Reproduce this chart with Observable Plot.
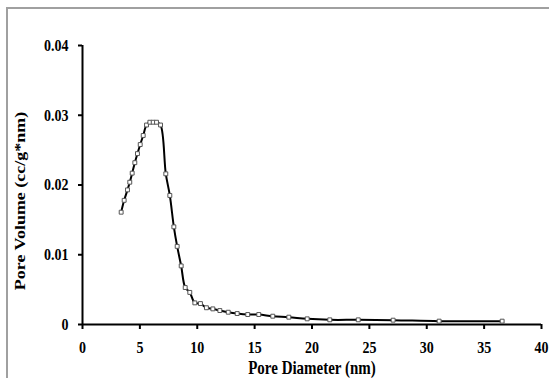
<!DOCTYPE html>
<html>
<head>
<meta charset="utf-8">
<script src="https://cdn.jsdelivr.net/npm/d3@7"></script>
<script src="https://cdn.jsdelivr.net/npm/@observablehq/plot@0.6"></script>
<style>
  html, body { margin: 0; padding: 0; background: #fff; }
  #wrap { position: relative; width: 549px; height: 378px; overflow: hidden; }
  #frame { position: absolute; left: 6px; top: 7px; width: 600px; height: 420px; border: 2px solid #a0a0a0; box-sizing: border-box; }
  #chart { position: absolute; left: 0; top: 0; }
</style>
</head>
<body>
<div id="wrap"><div id="frame"></div><div id="chart"></div></div>
<script>
const diameter = [3.37, 3.63, 3.92, 4.12, 4.33, 4.56, 4.79, 5.03, 5.29, 5.58, 5.87, 6.16, 6.45, 6.8, 7.26, 7.61, 7.96, 8.25, 8.6, 8.95, 9.35, 9.79, 10.28, 10.8, 11.36, 11.97, 12.7, 13.48, 14.4, 15.36, 16.58, 17.98, 19.58, 21.55, 24.03, 27.07, 31.08, 36.57];
const volume = [0.0161, 0.0178, 0.0193, 0.0204, 0.0217, 0.0232, 0.0245, 0.0258, 0.0271, 0.0286, 0.0290, 0.0290, 0.0290, 0.0286, 0.0216, 0.0185, 0.0140, 0.0112, 0.0084, 0.0053, 0.0046, 0.0031, 0.0030, 0.0024, 0.00224, 0.0020, 0.00176, 0.00157, 0.00143, 0.00143, 0.00119, 0.00105, 0.00081, 0.00067, 0.00067, 0.00062, 0.00048, 0.00048];
const xTicks = [0, 5, 10, 15, 20, 25, 30, 35, 40];
const yTicks = [0, 0.01, 0.02, 0.03, 0.04];
const yTickLabels = ["0", "0.01", "0.02", "0.03", "0.04"];
const xTitle = "Pore Diameter (nm)";
const yTitle = "Pore Volume (cc/g*nm)";

const data = diameter.map((d, i) => ({d, v: volume[i]}));

const chart = Plot.plot({
  width: 549,
  height: 378,
  marginLeft: 82,
  marginRight: 8,
  marginTop: 45,
  marginBottom: 54,
  style: {fontFamily: "'Liberation Serif', 'Times New Roman', serif", fontSize: "14px", fontWeight: "bold", color: "#000", background: "transparent"},
  x: {domain: [0, 40]},
  y: {domain: [0, 0.04]},
  marks: [
    Plot.axisX({ticks: xTicks, tickFormat: d => String(d), tickSize: 5, tickPadding: 12, strokeWidth: 2, fontSize: 14, label: null}),
    Plot.axisY({ticks: yTicks, tickFormat: (d, i) => yTickLabels[i], tickSize: 4, tickPadding: 10, strokeWidth: 2, fontSize: 14, label: null}),
    Plot.text([xTitle], {frameAnchor: "bottom", text: d => d, dy: 37, lineAnchor: "top", textAnchor: "middle", fontSize: 15, fontWeight: "bold"}),
    Plot.text([yTitle], {frameAnchor: "left", text: d => d, dx: -62, dy: 16, rotate: -90, lineAnchor: "middle", textAnchor: "middle", fontSize: 15, fontWeight: "bold"}),
    Plot.ruleY([0], {stroke: "#000", strokeWidth: 2}),
    Plot.ruleX([0], {stroke: "#000", strokeWidth: 2}),
    Plot.line(data, {x: "d", y: "v", curve: "catmull-rom", stroke: "#000", strokeWidth: 2}),
    Plot.dot(data, {x: "d", y: "v", symbol: "square", r: 2.2, fill: "#fff", stroke: "#555", strokeWidth: 1})
  ]
});

// the reference text is stretched vertically (~1.2x)
d3.select(chart).selectAll("text").each(function() {
  const t = this.getAttribute("transform");
  const rotated = t && t.includes("rotate");
  const s = rotated ? " scale(1.2,1)" : " scale(1,1.2)";
  if (t) this.setAttribute("transform", t + s);
  else {
    const x = +this.getAttribute("x") || 0, y = +this.getAttribute("y") || 0;
    this.removeAttribute("x"); this.removeAttribute("y");
    this.setAttribute("transform", `translate(${x},${y})` + s);
  }
});

document.getElementById("chart").appendChild(chart);
</script>
</body>
</html>
